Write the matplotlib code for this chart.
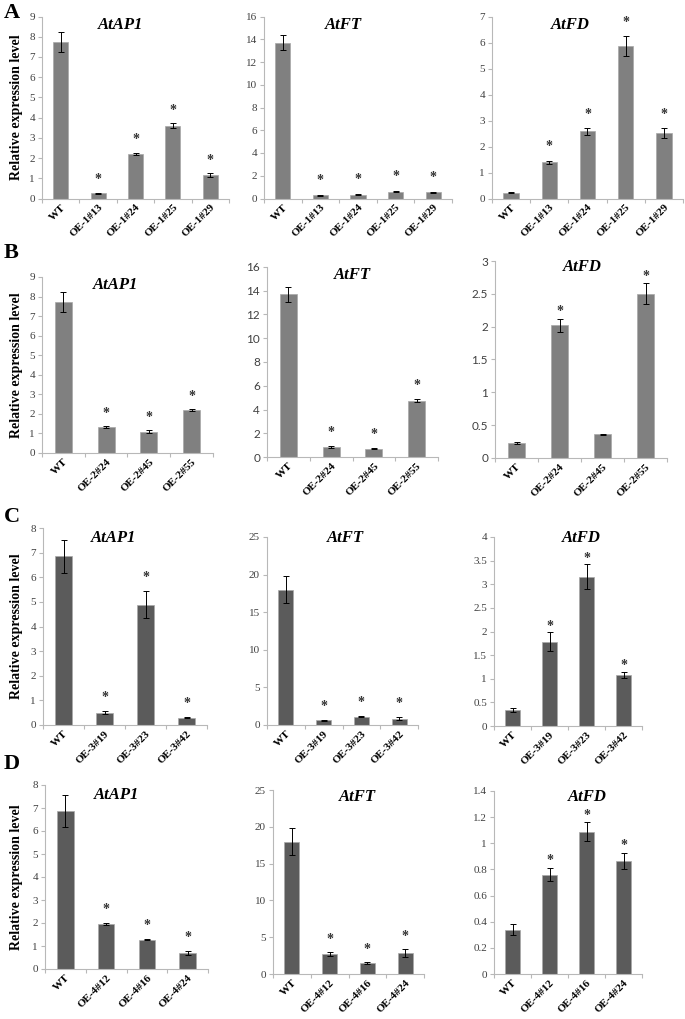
import numpy as np
import matplotlib
matplotlib.use("Agg")
import matplotlib.pyplot as plt

plt.rcParams['font.family'] = ['Liberation Serif', 'DejaVu Serif']

# ---- data ----
genes = ['AtAP1', 'AtFT', 'AtFD']

lines_a = ['WT', 'OE-1#13', 'OE-1#24', 'OE-1#25', 'OE-1#29']
lines_b = ['WT', 'OE-2#24', 'OE-2#45', 'OE-2#55']
lines_c = ['WT', 'OE-3#19', 'OE-3#23', 'OE-3#42']
lines_d = ['WT', 'OE-4#12', 'OE-4#16', 'OE-4#24']

a_ap1 = [7.72, 0.25, 2.22, 3.60, 1.15]
a_ap1_err = [0.50, 0.02, 0.05, 0.12, 0.10]
a_ft = [13.7, 0.30, 0.35, 0.60, 0.55]
a_ft_err = [0.65, 0.05, 0.04, 0.05, 0.05]
a_fd = [0.22, 1.40, 2.58, 5.87, 2.52]
a_fd_err = [0.02, 0.06, 0.13, 0.37, 0.18]

b_ap1 = [7.72, 1.33, 1.08, 2.20]
b_ap1_err = [0.50, 0.03, 0.08, 0.03]
b_ft = [13.7, 0.82, 0.70, 4.75]
b_ft_err = [0.65, 0.10, 0.04, 0.15]
b_fd = [0.23, 2.02, 0.36, 2.50]
b_fd_err = [0.01, 0.10, 0.01, 0.16]

c_ap1 = [6.85, 0.50, 4.88, 0.30]
c_ap1_err = [0.68, 0.05, 0.55, 0.02]
c_ft = [18.0, 0.60, 1.10, 0.85]
c_ft_err = [1.80, 0.10, 0.08, 0.15]
c_fd = [0.34, 1.78, 3.16, 1.08]
c_fd_err = [0.04, 0.20, 0.27, 0.07]

d_ap1 = [6.87, 1.95, 1.28, 0.70]
d_ap1_err = [0.68, 0.03, 0.03, 0.08]
d_ft = [18.0, 2.75, 1.50, 2.90]
d_ft_err = [1.80, 0.30, 0.08, 0.55]
d_fd = [0.34, 0.76, 1.09, 0.865]
d_fd_err = [0.04, 0.05, 0.07, 0.06]

# significance marks (1 = star)
a_star = [0, 1, 1, 1, 1]
b_star_fd = [0, 1, 0, 1]
bcd_star = [0, 1, 1, 1]

yticks_all = {
    ('A', 'AtAP1'): np.arange(0, 10, 1), ('A', 'AtFT'): np.arange(0, 17, 2),
    ('A', 'AtFD'): np.arange(0, 8, 1),
    ('B', 'AtAP1'): np.arange(0, 10, 1), ('B', 'AtFT'): np.arange(0, 17, 2),
    ('B', 'AtFD'): np.arange(0, 3.1, 0.5),
    ('C', 'AtAP1'): np.arange(0, 9, 1), ('C', 'AtFT'): np.arange(0, 26, 5),
    ('C', 'AtFD'): np.arange(0, 4.1, 0.5),
    ('D', 'AtAP1'): np.arange(0, 9, 1), ('D', 'AtFT'): np.arange(0, 26, 5),
    ('D', 'AtFD'): np.arange(0, 1.41, 0.2),
}

rows = [
    ('A', lines_a, [(a_ap1, a_ap1_err, a_star), (a_ft, a_ft_err, a_star), (a_fd, a_fd_err, a_star)]),
    ('B', lines_b, [(b_ap1, b_ap1_err, bcd_star), (b_ft, b_ft_err, bcd_star), (b_fd, b_fd_err, b_star_fd)]),
    ('C', lines_c, [(c_ap1, c_ap1_err, bcd_star), (c_ft, c_ft_err, bcd_star), (c_fd, c_fd_err, bcd_star)]),
    ('D', lines_d, [(d_ap1, d_ap1_err, bcd_star), (d_ft, d_ft_err, bcd_star), (d_fd, d_fd_err, bcd_star)]),
]

# ---- layout (pixel boxes: left, right, top, bottom), title pos, star offset ----
W, H = 685, 1019
boxes = {
    'A': [(42, 229, 16.5, 198.5), (264, 452, 16.5, 198.5), (492, 683, 16.5, 198.5)],
    'B': [(42, 213, 277, 453), (267, 438, 267, 457), (495, 667, 261, 458)],
    'C': [(43, 207, 528, 725), (267, 418, 537, 725), (494, 642, 537, 726)],
    'D': [(45, 208, 785, 969), (273, 424, 790, 974), (494, 642, 791, 974)],
}
title_pos = {
    'A': [(0.42, 0.953), (0.42, 0.953), (0.41, 0.953)],
    'B': [(0.43, 0.955), (0.50, 0.958), (0.51, 0.97)],
    'C': [(0.43, 0.95), (0.52, 0.995), (0.59, 0.995)],
    'D': [(0.44, 0.946), (0.56, 0.96), (0.63, 0.967)],
}
star_off = {
    'A': [0.072, 0.078, 0.077],
    'B': [0.075, 0.07, 0.035],
    'C': [0.07, 0.072, 0.03],
    'D': [0.075, 0.068, 0.04],
}
letter_y = {'A': 13, 'B': 253, 'C': 517, 'D': 764}
bar_color = {'A': '#808080', 'B': '#808080', 'C': '#5b5b5b', 'D': '#5b5b5b'}
axis_grey = '#b8b8b8'

fig = plt.figure(figsize=(W / 100, H / 100), dpi=100)

for letter, labels, panels in rows:
    fig.text(4 / W, 1 - letter_y[letter] / H, letter, fontsize=16, fontweight='bold',
             va='center', ha='left')
    for col, (vals, errs, stars) in enumerate(panels):
        gene = genes[col]
        l, r, t, b = boxes[letter][col]
        ax = fig.add_axes([l / W, 1 - b / H, (r - l) / W, (b - t) / H])
        x = np.arange(len(labels))
        ax.bar(x, vals, width=0.4, color=bar_color[letter], edgecolor='#a8a8a8',
               linewidth=0.5, zorder=2)
        ax.errorbar(x, vals, yerr=errs, fmt='none', ecolor='black', elinewidth=0.7,
                    capsize=2, capthick=0.7, zorder=3)
        yt = yticks_all[(letter, gene)]
        ymax = yt[-1]
        ax.set_ylim(0, ymax)
        ax.set_xlim(-0.5, len(labels) - 0.5)
        for xi, v, e, s in zip(x, vals, errs, stars):
            if s:
                ax.text(xi, v + e + star_off[letter][col] * ymax, '*', ha='center',
                        va='center', fontsize=10, fontweight='bold', color='#333333')
        ax.set_yticks(yt)
        sans = letter == 'B' and col > 0
        ylabels = ['%g' % v for v in yt]
        ax.set_yticklabels(ylabels, fontsize=8.5 if sans else 8,
                           family=['Lato', 'DejaVu Sans'] if sans else ['Liberation Serif'],
                           color='#404040')
        ax.set_xticks(np.arange(-0.5, len(labels), 1), minor=False)
        ax.set_xticklabels([''] * (len(labels) + 1))
        ax.set_xticks(x, minor=True)
        ax.set_xticklabels(labels, minor=True, rotation=45, ha='right',
                           rotation_mode='anchor', fontsize=8, fontweight='bold')
        ax.tick_params(axis='x', which='minor', length=0, pad=3)
        ax.tick_params(axis='x', which='major', length=3, color=axis_grey, width=0.8)
        ax.tick_params(axis='y', length=3, color=axis_grey, width=0.8, pad=2)
        for side in ['top', 'right']:
            ax.spines[side].set_visible(False)
        for side in ['left', 'bottom']:
            ax.spines[side].set_color(axis_grey)
            ax.spines[side].set_linewidth(0.8)
        tx, ty = title_pos[letter][col]
        ax.text(tx, ty, gene, transform=ax.transAxes, ha='center', va='center',
                fontsize=12, fontweight='bold', fontstyle='italic')
        if col == 0:
            ax.set_ylabel('Relative expression level', fontsize=10, fontweight='bold')
            ax.yaxis.set_label_coords((23 - l) / (r - l), 0.5)

fig.savefig('out.png', dpi=100)
